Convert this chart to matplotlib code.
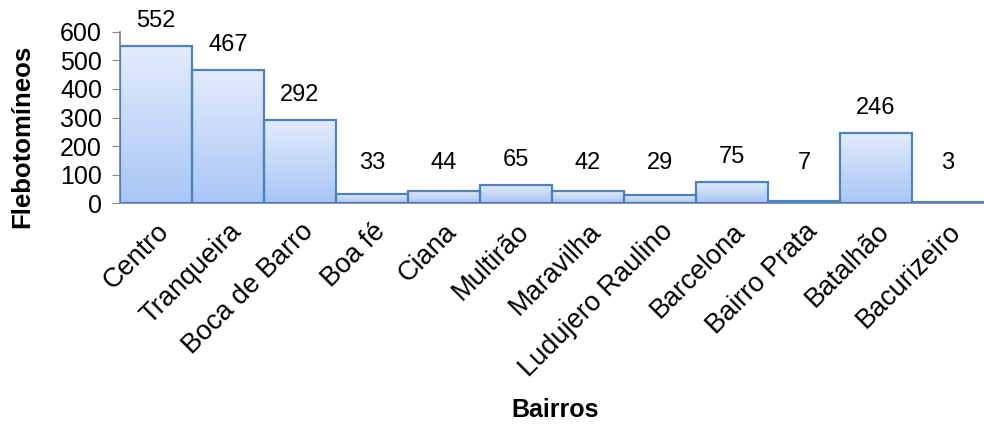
import matplotlib
matplotlib.use("Agg")
import matplotlib.pyplot as plt
import matplotlib.transforms as mtransforms
import numpy as np
from matplotlib.colors import LinearSegmentedColormap

plt.rcParams['font.family'] = ['Liberation Sans', 'DejaVu Sans']

bairros = ['Centro', 'Tranqueira', 'Boca de Barro', 'Boa fé', 'Ciana', 'Multirão',
           'Maravilha', 'Ludujero Raulino', 'Barcelona', 'Bairro Prata', 'Batalhão',
           'Bacurizeiro']
flebotomineos = [552, 467, 292, 33, 44, 65, 42, 29, 75, 7, 246, 3]

fig = plt.figure(figsize=(9.84, 4.25), dpi=100)
ax = fig.add_axes([0.122, 0.522, 0.878, 0.403])

x = np.arange(len(bairros))
bars = ax.bar(x, flebotomineos, width=1.0, color='none', edgecolor='#4f81bd',
              linewidth=1.6, zorder=3)

# gradient fill inside each bar (light at top, darker at bottom)
cmap = LinearSegmentedColormap.from_list('grad', ['#e3ecfc', '#a9c6f6'])
grad = np.linspace(0, 1, 256).reshape(-1, 1)
for b in bars:
    x0, y0 = b.get_x(), b.get_y()
    w, h = b.get_width(), b.get_height()
    im = ax.imshow(grad, cmap=cmap, aspect='auto', origin='upper',
                   extent=[x0, x0 + w, y0, y0 + h], zorder=2)
    im.set_clip_path(b)

# value labels (small bars get a minimum height so labels line up)
for xi, v in zip(x, flebotomineos):
    ax.annotate(str(v), (xi, max(v, 55)), xytext=(0, 10), textcoords='offset points',
                ha='center', va='bottom', fontsize=17, annotation_clip=False)

ax.set_xlim(-0.5, len(bairros) - 0.5)
ax.set_ylim(0, 600)
ax.set_yticks(range(0, 601, 100))
ax.set_xticks(x)
ax.set_xticklabels(bairros, rotation=45, ha='right', va='top', rotation_mode='anchor',
                   fontsize=19.5)
shift = mtransforms.ScaledTranslation(-3 / 72, 0, fig.dpi_scale_trans)
for lab in ax.get_xticklabels():
    lab.set_transform(lab.get_transform() + shift)
ax.tick_params(axis='y', labelsize=18, length=6, color='#868686', direction='out', pad=7)
ax.tick_params(axis='x', length=0, pad=11)

for s in ['top', 'right']:
    ax.spines[s].set_visible(False)
for s in ['left', 'bottom']:
    ax.spines[s].set_color('#868686')
    ax.spines[s].set_linewidth(1.3)

fig.text(0.023, 0.68, 'Flebotomíneos', rotation=90, ha='center',
         va='center', fontsize=18.5, fontweight='bold')
fig.text(0.564, 0.035, 'Bairros', ha='center', va='center', fontsize=18, fontweight='bold')

fig.savefig('out.png', dpi=100)
